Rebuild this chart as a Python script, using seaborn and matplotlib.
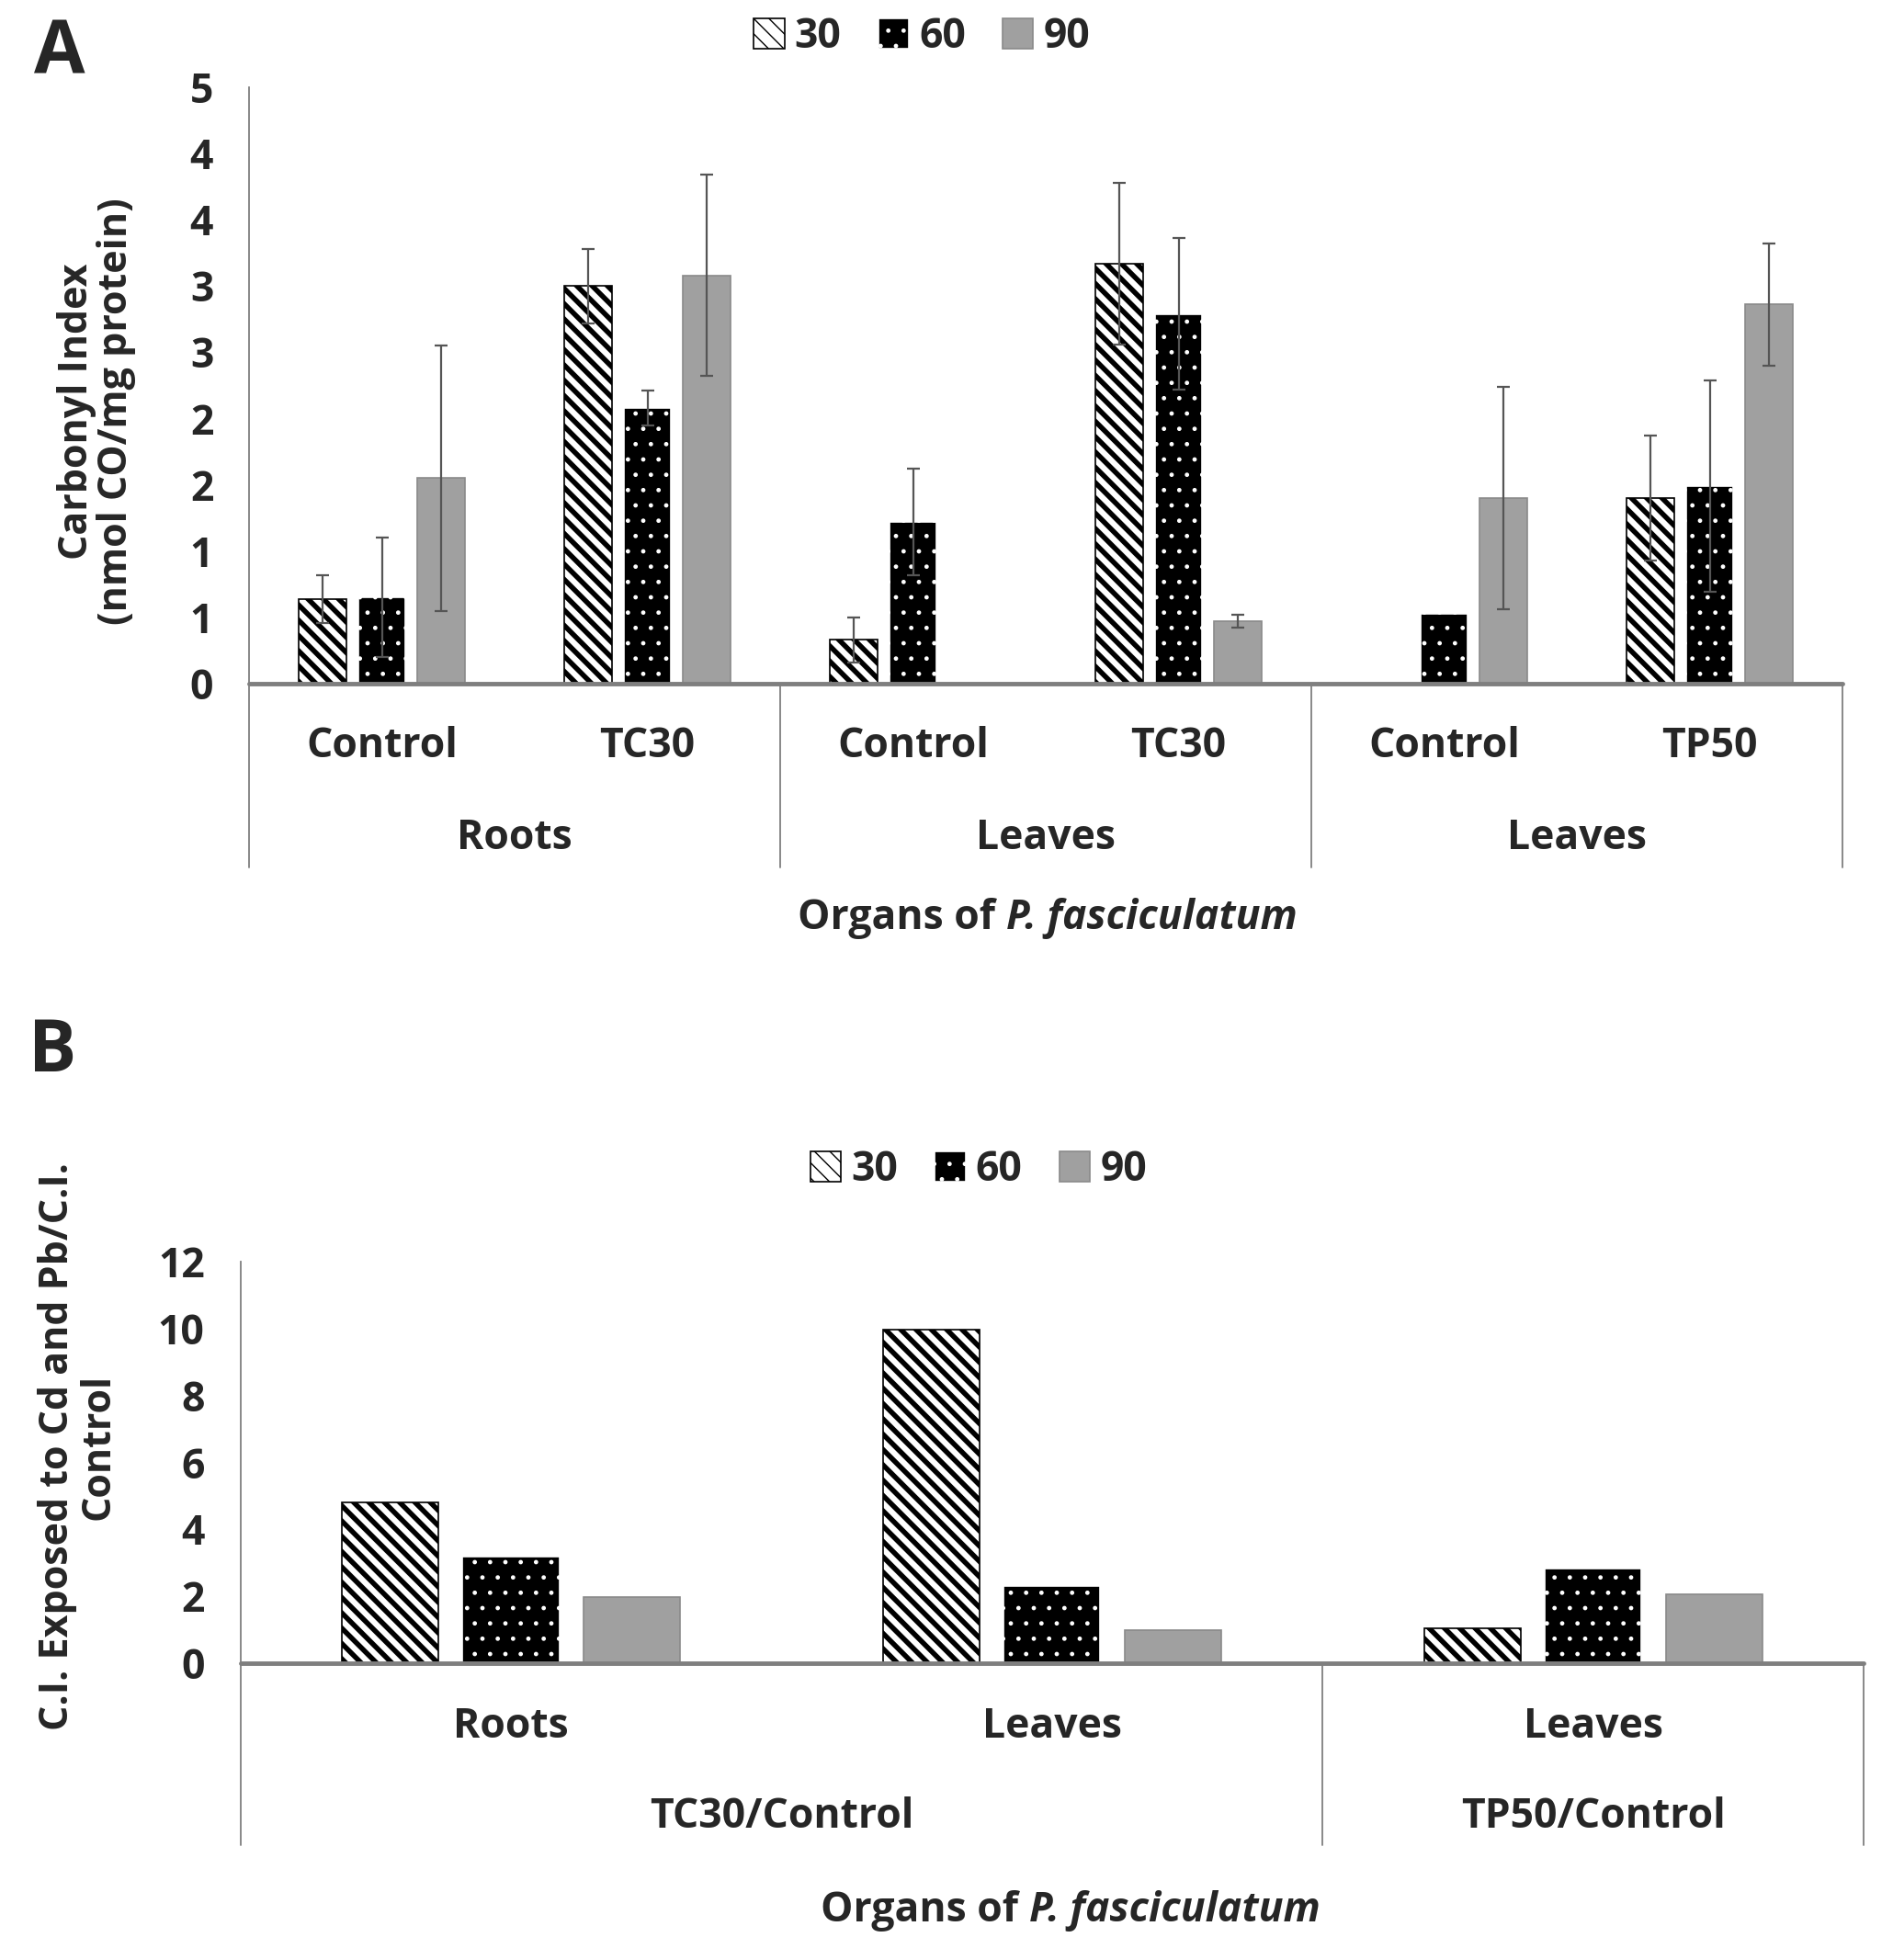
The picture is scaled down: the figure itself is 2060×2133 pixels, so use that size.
"""
Carbonyl index of P. fasciculatum organs (panel A) and ratio to control (panel B)
"""

import numpy as np
import pandas as pd
import seaborn as sns
import matplotlib.pyplot as plt
import matplotlib.patches as mpatches

days = ['30', '60', '90']

# Panel A: carbonyl index
a_groups = ['Roots', 'Leaves', 'Leaves']
a_group_sizes = [2, 2, 2]
a_categories = ['Control', 'TC30', 'Control', 'TC30', 'Control', 'TP50']
a_30 = [0.64, 3.00, 0.33, 3.17, 0.00, 1.40]
a_60 = [0.65, 2.08, 1.22, 2.79, 0.53, 1.49]
a_90 = [1.55, 3.08, 0.00, 0.47, 1.40, 2.86]
a_30_err = [0.18, 0.28, 0.17, 0.61, 0.00, 0.47]
a_60_err = [0.45, 0.13, 0.40, 0.57, 0.00, 0.80]
a_90_err = [1.00, 0.76, 0.00, 0.05, 0.84, 0.46]
a_yticks = [0, 0.5, 1, 1.5, 2, 2.5, 3, 3.5, 4, 4.5]
a_yticklabels = ['0', '1', '1', '2', '2', '3', '3', '4', '4', '5']

# Panel B: C.I. exposed / C.I. control
b_groups = ['TC30/Control', 'TP50/Control']
b_group_sizes = [2, 1]
b_categories = ['Roots', 'Leaves', 'Leaves']
b_30 = [4.82, 9.98, 1.05]
b_60 = [3.19, 2.31, 2.82]
b_90 = [1.99, 0.99, 2.06]
b_yticks = [0, 2, 4, 6, 8, 10, 12]

styles = {
    '30': dict(facecolor='white', edgecolor='black', hatch='\\\\', hlw=4.0),
    '60': dict(facecolor='black', edgecolor='white', hatch='.', hlw=1.0),
    '90': dict(facecolor='#a0a0a0', edgecolor='#8a8a8a', hatch=None, hlw=1.0),
}

sns.set_theme(style='white')
plt.rcParams['font.family'] = ['Open Sans', 'DejaVu Sans']
plt.rcParams['font.weight'] = 'bold'
FS = 32


def style_patch(p, day):
    st = styles[day]
    p.set_facecolor(st['facecolor'])
    p.set_edgecolor(st['edgecolor'])
    p.set_linewidth(1.2)
    if st['hatch']:
        p.set_hatch(st['hatch'])
        if hasattr(p, 'set_hatch_linewidth'):
            p.set_hatch_linewidth(st['hlw'])


def make_frame(categories, series):
    rows = []
    for i, cat in enumerate(categories):
        for day, vals in zip(days, series):
            rows.append({'pos': str(i), 'day': day, 'value': vals[i]})
    return pd.DataFrame(rows)


def draw_panel(ax, categories, series, groups, group_sizes, yticks, yticklabels,
               ylim, cat_y, grp_y, box_y, errors=None):
    df = make_frame(categories, series)
    sns.barplot(data=df, x='pos', y='value', hue='day', hue_order=days,
                order=[str(i) for i in range(len(categories))],
                width=0.67, gap=0.2, errorbar=None, legend=False, ax=ax)
    for day, cont in zip(days, ax.containers):
        for p in cont.patches:
            style_patch(p, day)
    if errors is not None:
        for cont, err in zip(ax.containers, errors):
            xs = np.array([p.get_x() + p.get_width() / 2 for p in cont.patches])
            ys = np.array([p.get_height() for p in cont.patches])
            e = np.array(err)
            m = e > 0
            ax.errorbar(xs[m], ys[m], yerr=e[m], fmt='none', ecolor='#555555',
                        elinewidth=1.6, capsize=5, capthick=1.6, zorder=5)

    n = len(categories)
    ax.set_xlim(-0.5, n - 0.5)
    ax.set_ylim(*ylim)
    ax.set_yticks(yticks)
    ax.set_yticklabels(yticklabels)
    ax.tick_params(axis='y', length=0, pad=28, labelsize=FS)
    ax.set_xticks([])
    ax.set_xlabel('')
    ax.set_ylabel('')
    for s in ['top', 'right', 'bottom']:
        ax.spines[s].set_visible(False)
    ax.spines['left'].set_color('#7f7f7f')
    ax.spines['left'].set_linewidth(1.3)
    ax.axhline(0, color='#7f7f7f', lw=3.5, zorder=6, clip_on=False)

    tr = ax.get_xaxis_transform()
    for i, cat in enumerate(categories):
        ax.text(i, cat_y, cat, transform=tr, ha='center', va='center',
                fontsize=FS, fontweight='bold')
    edges = np.concatenate([[0], np.cumsum(group_sizes)]) - 0.5
    for g, lo, hi in zip(groups, edges[:-1], edges[1:]):
        ax.text((lo + hi) / 2, grp_y, g, transform=tr, ha='center', va='center',
                fontsize=FS, fontweight='bold')
    for x in edges:
        ax.plot([x, x], [box_y, 0], transform=tr, color='#7f7f7f', lw=1.3,
                clip_on=False)


fig = plt.figure(figsize=(20.6, 21.33), dpi=100)

ax_a = fig.add_axes([0.1316, 0.6512, 0.8417, 0.3043])
draw_panel(ax_a, a_categories, [a_30, a_60, a_90], a_groups, a_group_sizes,
           a_yticks, a_yticklabels, (0, 4.5), -0.106, -0.259, -0.308,
           errors=[a_30_err, a_60_err, a_90_err])

ax_b = fig.add_axes([0.127, 0.1514, 0.8575, 0.2049])
draw_panel(ax_b, b_categories, [b_30, b_60, b_90], b_groups, b_group_sizes,
           b_yticks, [str(t) for t in b_yticks], (0, 12), -0.158, -0.384, -0.453)

# Legends
handles = []
for day in days:
    st = styles[day]
    h = mpatches.Patch(facecolor=st['facecolor'],
                       edgecolor='black' if day != '90' else st['edgecolor'],
                       hatch=st['hatch'], label=day, linewidth=1.2)
    if hasattr(h, 'set_hatch_linewidth') and st['hatch']:
        h.set_hatch_linewidth(3.0 if day == '30' else 1.0)
    if day == '60':
        h.set_edgecolor('white')
    handles.append(h)

for loc in [(0.487, 0.981), (0.517, 0.403)]:
    fig.legend(handles=handles, loc='center', bbox_to_anchor=loc, ncol=3,
               frameon=False, fontsize=FS, handlelength=0.75, handleheight=0.75,
               handletextpad=0.25, columnspacing=0.9, borderaxespad=0)

# Axis titles
fig.text(0.051, 0.790, 'Carbonyl Index\n(nmol CO/mg protein)', rotation=90,
         ha='center', va='center', multialignment='center', fontsize=31,
         fontweight='bold', linespacing=1.0)
fig.text(0.041, 0.262, 'C.I. Exposed to Cd and Pb/C.I.\nControl', rotation=90,
         ha='center', va='center', multialignment='center', fontsize=31,
         fontweight='bold', linespacing=1.05)


def organ_label(xc, y):
    t1 = fig.text(xc, y, 'Organs of ', ha='right', va='center', fontsize=FS,
                  fontweight='bold')
    t2 = fig.text(xc, y, 'P. fasciculatum', ha='left', va='center', fontsize=FS,
                  fontweight='bold', style='italic')
    r = fig.canvas.get_renderer()
    w1 = t1.get_window_extent(r).width / fig.bbox.width
    w2 = t2.get_window_extent(r).width / fig.bbox.width
    shift = (w1 - w2) / 2
    t1.set_x(xc + shift)
    t2.set_x(xc + shift)


organ_label(1140 / 2060, 1 - 999 / 2133)
organ_label(1165 / 2060, 1 - 2080 / 2133)

fig.text(0.0316, 0.972, 'A', ha='center', va='center', fontsize=58,
         fontweight='bold')
fig.text(0.0277, 0.463, 'B', ha='center', va='center', fontsize=56,
         fontweight='bold')

fig.savefig('out.png', dpi=100)
